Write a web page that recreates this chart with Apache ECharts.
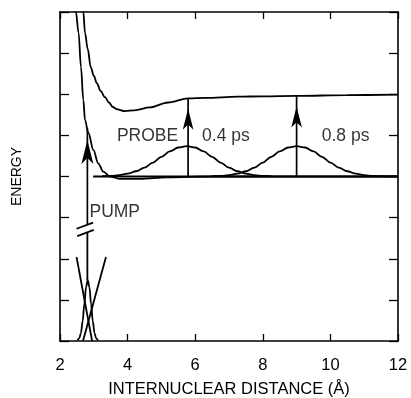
<!DOCTYPE html>
<html><head><meta charset="utf-8">
<script src="https://cdn.jsdelivr.net/npm/echarts@6/dist/echarts.min.js"></script>
<style>html,body{margin:0;padding:0;background:#fff}#c{width:411px;height:398px}</style>
</head><body><div id="c"></div>
<script>
// x axis tick values (Å)
const xTicks = [2, 4, 6, 8, 10, 12];
// upper (excited) potential curve
const upperX = [2.62, 2.69, 2.74, 2.82, 2.91, 3.0, 3.09, 3.2, 3.33, 3.45, 3.56, 3.7, 3.92, 4.2, 4.66, 5.2, 5.79, 6.29, 7.27, 8.0, 9.01, 10.5, 12];
const upperY = [8.6, 8.0, 7.49, 7.1, 6.66, 6.45, 6.27, 6.08, 5.93, 5.8, 5.69, 5.63, 5.59, 5.61, 5.68, 5.8, 5.9, 5.91, 5.94, 5.95, 5.96, 5.98, 5.99];
// lower (intermediate) potential curve
const lowerX = [2.42, 2.47, 2.55, 2.62, 2.69, 2.74, 2.84, 2.99, 3.13, 3.28, 3.48, 3.78, 4.37, 5.17, 6.5, 12];
const lowerY = [8.6, 8.0, 7.49, 6.66, 5.86, 5.37, 5.06, 4.64, 4.32, 4.12, 4.00, 3.94, 3.94, 3.98, 4.0, 4.0];
// baseline of the wave packets
const baseX = [2.98, 12];
const baseY = [4, 4];
// wave packet at 0.4 ps
const pk1X = [3.25, 3.5, 3.75, 4.0, 4.25, 4.5, 4.75, 5.0, 5.25, 5.5, 5.75, 6.0, 6.25, 6.5, 6.75, 7.0, 7.25, 7.5, 7.75, 8.0, 8.25];
const pk1Y = [4.006, 4.014, 4.033, 4.068, 4.128, 4.218, 4.339, 4.477, 4.609, 4.705, 4.74, 4.705, 4.609, 4.477, 4.339, 4.218, 4.128, 4.068, 4.033, 4.014, 4.006];
// wave packet at 0.8 ps
const pk2X = [6.5, 6.75, 7.0, 7.25, 7.5, 7.75, 8.0, 8.25, 8.5, 8.75, 9.0, 9.25, 9.5, 9.75, 10.0, 10.25, 10.5, 10.75, 11.0, 11.25, 11.5, 12];
const pk2Y = [4.006, 4.014, 4.033, 4.068, 4.128, 4.218, 4.339, 4.477, 4.609, 4.705, 4.74, 4.705, 4.609, 4.477, 4.339, 4.218, 4.128, 4.068, 4.033, 4.014, 4.006, 4.001];
// ground-state wave packet
const gpX = [2.52, 2.57, 2.62, 2.67, 2.72, 2.77, 2.82, 2.87, 2.92, 2.97, 3.02, 3.07, 3.12];
const gpY = [0.017, 0.065, 0.2, 0.48, 0.9, 1.31, 1.48, 1.31, 0.9, 0.48, 0.2, 0.065, 0.017];
// ground-state potential branches
const gLeftX = [2.49, 2.95];
const gLeftY = [2.04, 0];
const gRightX = [3.36, 2.68];
const gRightY = [2.04, 0];
// pump arrow (broken) and break marks
const pumpLowX = [2.81, 2.81];
const pumpLowY = [1.48, 2.64];
const pumpHighX = [2.81, 2.81];
const pumpHighY = [2.83, 5.18];
const brk1X = [2.49, 2.98];
const brk1Y = [2.73, 2.88];
const brk2X = [2.51, 3.0];
const brk2Y = [2.55, 2.70];
// probe arrows
const probe1X = [5.79, 5.79];
const probe1Y = [4, 5.9];
const probe2X = [9.0, 9.0];
const probe2Y = [4, 5.96];
// text labels
const labelText = ['PROBE', '0.4 ps', '0.8 ps', 'PUMP'];
const labelX = [4.59, 6.91, 10.45, 3.62];
const labelY = [4.98, 4.98, 4.98, 3.14];

const FONT = '"Liberation Sans", Arial, sans-serif';
const zip = (xs, ys) => xs.map((x, i) => [x, ys[i]]);
function curve(xs, ys, smooth) {
  return { type: 'line', data: zip(xs, ys), showSymbol: false, smooth: smooth ? 0.35 : false,
    smoothMonotone: smooth ? 'x' : undefined,
    lineStyle: { color: '#000', width: 1.8 }, silent: true, z: 3 };
}
function arrow(xs, ys, size) {
  return { type: 'line', showSymbol: true, silent: true,
    lineStyle: { color: '#000', width: 1.7 }, itemStyle: { color: '#000' }, z: 4,
    data: [ { value: [xs[0], ys[0]], symbol: 'none' },
            { value: [xs[1], ys[1]], symbol: 'arrow', symbolSize: size, symbolOffset: [0, '50%'] } ] };
}
const chart = echarts.init(document.getElementById('c'), null, { renderer: 'canvas' });
const axisCommon = {
  axisLine: { onZero: false, lineStyle: { color: '#000', width: 1.6 } },
  splitLine: { show: false }
};
chart.setOption({
  animation: false,
  backgroundColor: '#fff',
  grid: { left: 60, right: 13, top: 12, bottom: 57, containLabel: false, outerBoundsMode: 'none' },
  xAxis: [
    Object.assign({ type: 'value', min: 2, max: 12, interval: 2, position: 'bottom',
      name: 'INTERNUCLEAR DISTANCE (Å)', nameLocation: 'middle', nameGap: 40,
      nameTextStyle: { color: '#000', fontSize: 16.5, fontFamily: FONT },
      axisTick: { inside: true, length: 7, lineStyle: { color: '#000', width: 1.3 } },
      axisLabel: { color: '#000', fontSize: 16.5, fontFamily: FONT, margin: 16,
        formatter: v => xTicks.includes(v) ? String(v) : '' } }, axisCommon),
    Object.assign({ type: 'value', min: 2, max: 12, interval: 2, position: 'top',
      axisTick: { inside: true, length: 7, lineStyle: { color: '#000', width: 1.3 } },
      axisLabel: { show: false } }, axisCommon)
  ],
  yAxis: [
    Object.assign({ type: 'value', min: 0, max: 8, interval: 1, position: 'left',
      name: 'ENERGY', nameLocation: 'middle', nameGap: 36, nameRotate: 90,
      nameTextStyle: { color: '#000', fontSize: 14, fontFamily: FONT },
      axisTick: { inside: true, length: 9, lineStyle: { color: '#000', width: 1.3 } },
      axisLabel: { show: false } }, axisCommon),
    Object.assign({ type: 'value', min: 0, max: 8, interval: 1, position: 'right',
      axisTick: { inside: true, length: 9, lineStyle: { color: '#000', width: 1.3 } },
      axisLabel: { show: false } }, axisCommon)
  ],
  series: [
    curve(upperX, upperY, true),
    curve(lowerX, lowerY, true),
    curve(baseX, baseY, false),
    curve(pk1X, pk1Y, true),
    curve(pk2X, pk2Y, true),
    curve(gpX, gpY, true),
    curve(gLeftX, gLeftY, false),
    curve(gRightX, gRightY, false),
    curve(pumpLowX, pumpLowY, false),
    curve(brk1X, brk1Y, false),
    curve(brk2X, brk2Y, false),
    arrow(pumpHighX, pumpHighY, [9, 24]),
    arrow(probe1X, probe1Y, [8, 21]),
    arrow(probe2X, probe2Y, [8, 21]),
    { type: 'scatter', symbolSize: 0, silent: true, z: 5,
      data: labelText.map((t, i) => ({ value: [labelX[i], labelY[i]], name: t })),
      label: { show: true, position: 'inside', formatter: p => p.name, color: '#000',
        fontSize: 17.5, fontFamily: FONT } }
  ]
});
</script></body></html>
